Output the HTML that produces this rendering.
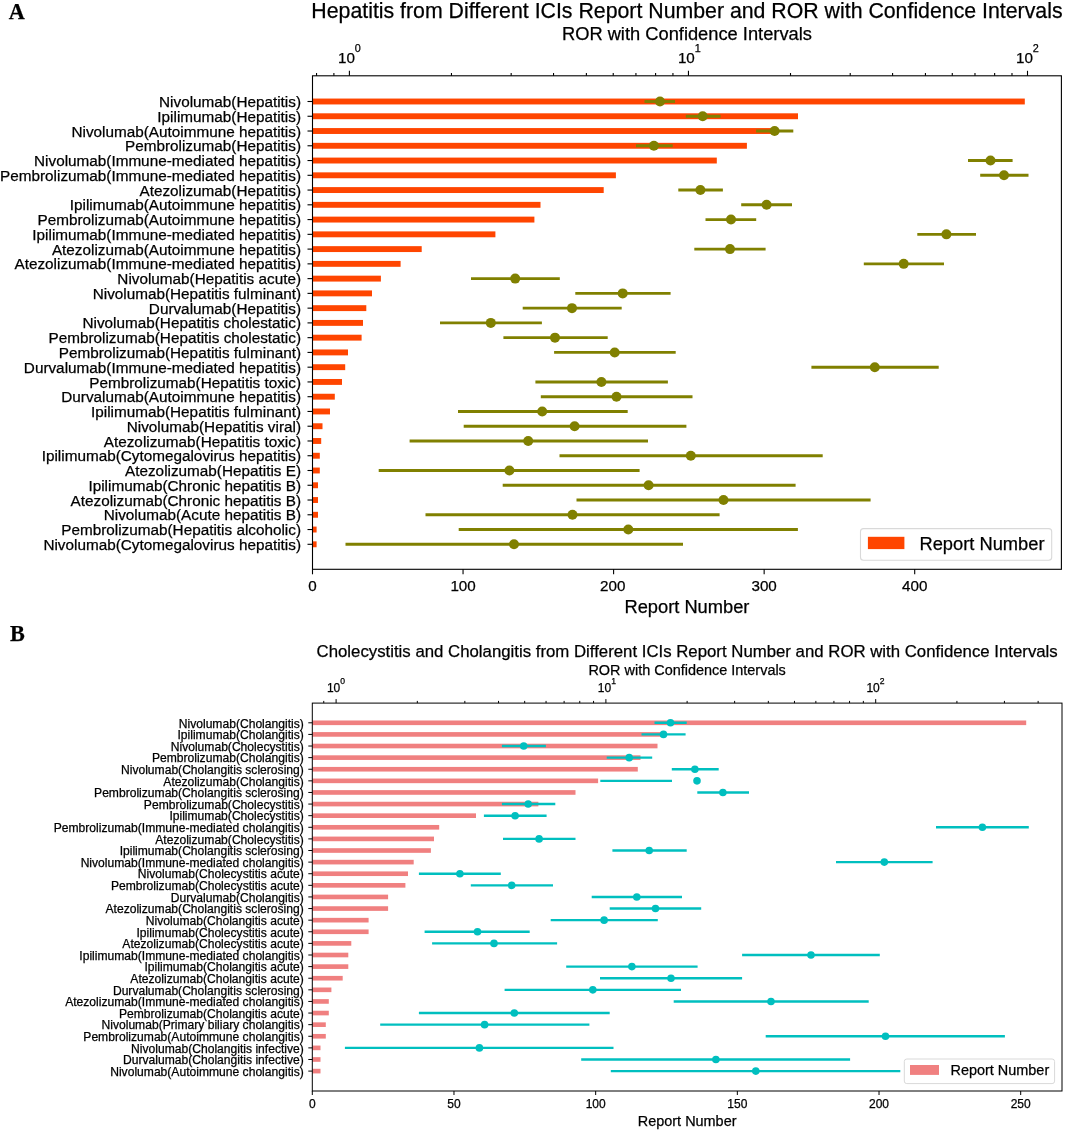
<!DOCTYPE html>
<html><head><meta charset="utf-8"><style>
html,body{margin:0;padding:0;background:#fff;}
body{width:1065px;height:1130px;overflow:hidden;}
svg{display:block;will-change:transform;font-family:"Liberation Sans",sans-serif;fill:#000;}
text{stroke:#000;stroke-width:0.25px;}
</style></head><body>
<svg width="1065" height="1130" viewBox="0 0 1065 1130">
<rect width="1065" height="1130" fill="#fff"/>
<rect x="312.5" y="98.55" width="712.30" height="5.9" fill="#ff4500"/>
<rect x="312.5" y="113.31" width="485.50" height="5.9" fill="#ff4500"/>
<rect x="312.5" y="128.07" width="463.50" height="5.9" fill="#ff4500"/>
<rect x="312.5" y="142.83" width="434.40" height="5.9" fill="#ff4500"/>
<rect x="312.5" y="157.59" width="404.30" height="5.9" fill="#ff4500"/>
<rect x="312.5" y="172.35" width="303.40" height="5.9" fill="#ff4500"/>
<rect x="312.5" y="187.11" width="291.20" height="5.9" fill="#ff4500"/>
<rect x="312.5" y="201.87" width="228.00" height="5.9" fill="#ff4500"/>
<rect x="312.5" y="216.63" width="221.90" height="5.9" fill="#ff4500"/>
<rect x="312.5" y="231.39" width="182.90" height="5.9" fill="#ff4500"/>
<rect x="312.5" y="246.15" width="109.20" height="5.9" fill="#ff4500"/>
<rect x="312.5" y="260.91" width="88.10" height="5.9" fill="#ff4500"/>
<rect x="312.5" y="275.67" width="68.40" height="5.9" fill="#ff4500"/>
<rect x="312.5" y="290.43" width="59.50" height="5.9" fill="#ff4500"/>
<rect x="312.5" y="305.19" width="53.80" height="5.9" fill="#ff4500"/>
<rect x="312.5" y="319.95" width="50.50" height="5.9" fill="#ff4500"/>
<rect x="312.5" y="334.71" width="49.10" height="5.9" fill="#ff4500"/>
<rect x="312.5" y="349.47" width="35.50" height="5.9" fill="#ff4500"/>
<rect x="312.5" y="364.23" width="32.70" height="5.9" fill="#ff4500"/>
<rect x="312.5" y="378.99" width="29.50" height="5.9" fill="#ff4500"/>
<rect x="312.5" y="393.75" width="22.30" height="5.9" fill="#ff4500"/>
<rect x="312.5" y="408.51" width="17.50" height="5.9" fill="#ff4500"/>
<rect x="312.5" y="423.27" width="10.00" height="5.9" fill="#ff4500"/>
<rect x="312.5" y="438.03" width="8.70" height="5.9" fill="#ff4500"/>
<rect x="312.5" y="452.79" width="7.30" height="5.9" fill="#ff4500"/>
<rect x="312.5" y="467.55" width="7.30" height="5.9" fill="#ff4500"/>
<rect x="312.5" y="482.31" width="5.50" height="5.9" fill="#ff4500"/>
<rect x="312.5" y="497.07" width="5.50" height="5.9" fill="#ff4500"/>
<rect x="312.5" y="511.83" width="5.50" height="5.9" fill="#ff4500"/>
<rect x="312.5" y="526.59" width="4.10" height="5.9" fill="#ff4500"/>
<rect x="312.5" y="541.35" width="4.10" height="5.9" fill="#ff4500"/>
<line x1="644.5" y1="101.50" x2="675" y2="101.50" stroke="#808000" stroke-width="2.9"/>
<circle cx="660" cy="101.50" r="5.0" fill="#808000"/>
<line x1="685.8" y1="116.26" x2="720.6" y2="116.26" stroke="#808000" stroke-width="2.9"/>
<circle cx="702.7" cy="116.26" r="5.0" fill="#808000"/>
<line x1="756.1" y1="131.02" x2="793.3" y2="131.02" stroke="#808000" stroke-width="2.9"/>
<circle cx="774.6" cy="131.02" r="5.0" fill="#808000"/>
<line x1="636" y1="145.78" x2="672.7" y2="145.78" stroke="#808000" stroke-width="2.9"/>
<circle cx="653.9" cy="145.78" r="5.0" fill="#808000"/>
<line x1="968" y1="160.54" x2="1012.6" y2="160.54" stroke="#808000" stroke-width="2.9"/>
<circle cx="990.5" cy="160.54" r="5.0" fill="#808000"/>
<line x1="980.2" y1="175.30" x2="1028.5" y2="175.30" stroke="#808000" stroke-width="2.9"/>
<circle cx="1004" cy="175.30" r="5.0" fill="#808000"/>
<line x1="678.3" y1="190.06" x2="722.9" y2="190.06" stroke="#808000" stroke-width="2.9"/>
<circle cx="700.4" cy="190.06" r="5.0" fill="#808000"/>
<line x1="741.2" y1="204.82" x2="792" y2="204.82" stroke="#808000" stroke-width="2.9"/>
<circle cx="766.6" cy="204.82" r="5.0" fill="#808000"/>
<line x1="705.5" y1="219.58" x2="756.2" y2="219.58" stroke="#808000" stroke-width="2.9"/>
<circle cx="731" cy="219.58" r="5.0" fill="#808000"/>
<line x1="917.3" y1="234.34" x2="976" y2="234.34" stroke="#808000" stroke-width="2.9"/>
<circle cx="946.4" cy="234.34" r="5.0" fill="#808000"/>
<line x1="694.3" y1="249.10" x2="765.6" y2="249.10" stroke="#808000" stroke-width="2.9"/>
<circle cx="730" cy="249.10" r="5.0" fill="#808000"/>
<line x1="863.8" y1="263.86" x2="944" y2="263.86" stroke="#808000" stroke-width="2.9"/>
<circle cx="903.7" cy="263.86" r="5.0" fill="#808000"/>
<line x1="471" y1="278.62" x2="559.8" y2="278.62" stroke="#808000" stroke-width="2.9"/>
<circle cx="515.2" cy="278.62" r="5.0" fill="#808000"/>
<line x1="575.3" y1="293.38" x2="670.6" y2="293.38" stroke="#808000" stroke-width="2.9"/>
<circle cx="622.7" cy="293.38" r="5.0" fill="#808000"/>
<line x1="522.7" y1="308.14" x2="621.7" y2="308.14" stroke="#808000" stroke-width="2.9"/>
<circle cx="572" cy="308.14" r="5.0" fill="#808000"/>
<line x1="440" y1="322.90" x2="541.9" y2="322.90" stroke="#808000" stroke-width="2.9"/>
<circle cx="490.8" cy="322.90" r="5.0" fill="#808000"/>
<line x1="503.4" y1="337.66" x2="607.7" y2="337.66" stroke="#808000" stroke-width="2.9"/>
<circle cx="555" cy="337.66" r="5.0" fill="#808000"/>
<line x1="554.1" y1="352.42" x2="675.7" y2="352.42" stroke="#808000" stroke-width="2.9"/>
<circle cx="614.7" cy="352.42" r="5.0" fill="#808000"/>
<line x1="811.4" y1="367.18" x2="938.7" y2="367.18" stroke="#808000" stroke-width="2.9"/>
<circle cx="874.8" cy="367.18" r="5.0" fill="#808000"/>
<line x1="535.4" y1="381.94" x2="667.9" y2="381.94" stroke="#808000" stroke-width="2.9"/>
<circle cx="601.4" cy="381.94" r="5.0" fill="#808000"/>
<line x1="540.8" y1="396.70" x2="692.5" y2="396.70" stroke="#808000" stroke-width="2.9"/>
<circle cx="616.5" cy="396.70" r="5.0" fill="#808000"/>
<line x1="458" y1="411.46" x2="627.7" y2="411.46" stroke="#808000" stroke-width="2.9"/>
<circle cx="542.2" cy="411.46" r="5.0" fill="#808000"/>
<line x1="463.7" y1="426.22" x2="686.4" y2="426.22" stroke="#808000" stroke-width="2.9"/>
<circle cx="574.6" cy="426.22" r="5.0" fill="#808000"/>
<line x1="409.6" y1="440.98" x2="648" y2="440.98" stroke="#808000" stroke-width="2.9"/>
<circle cx="528.2" cy="440.98" r="5.0" fill="#808000"/>
<line x1="559.5" y1="455.74" x2="822.7" y2="455.74" stroke="#808000" stroke-width="2.9"/>
<circle cx="690.8" cy="455.74" r="5.0" fill="#808000"/>
<line x1="378.7" y1="470.50" x2="639.6" y2="470.50" stroke="#808000" stroke-width="2.9"/>
<circle cx="509.4" cy="470.50" r="5.0" fill="#808000"/>
<line x1="502.7" y1="485.26" x2="795.6" y2="485.26" stroke="#808000" stroke-width="2.9"/>
<circle cx="648.6" cy="485.26" r="5.0" fill="#808000"/>
<line x1="576.5" y1="500.02" x2="870.6" y2="500.02" stroke="#808000" stroke-width="2.9"/>
<circle cx="723.5" cy="500.02" r="5.0" fill="#808000"/>
<line x1="425.5" y1="514.78" x2="719.6" y2="514.78" stroke="#808000" stroke-width="2.9"/>
<circle cx="572.5" cy="514.78" r="5.0" fill="#808000"/>
<line x1="458.7" y1="529.54" x2="797.9" y2="529.54" stroke="#808000" stroke-width="2.9"/>
<circle cx="628.3" cy="529.54" r="5.0" fill="#808000"/>
<line x1="345.5" y1="544.30" x2="683" y2="544.30" stroke="#808000" stroke-width="2.9"/>
<circle cx="514" cy="544.30" r="5.0" fill="#808000"/>
<rect x="312.5" y="75.8" width="748.9000000000001" height="493.49999999999994" fill="none" stroke="#000" stroke-width="1.1"/>
<line x1="307.5" y1="101.50" x2="312.5" y2="101.50" stroke="#000" stroke-width="1.1"/>
<text x="301.0" y="107.06" font-size="15.3" text-anchor="end">Nivolumab(Hepatitis)</text>
<line x1="307.5" y1="116.26" x2="312.5" y2="116.26" stroke="#000" stroke-width="1.1"/>
<text x="301.0" y="121.82" font-size="15.3" text-anchor="end">Ipilimumab(Hepatitis)</text>
<line x1="307.5" y1="131.02" x2="312.5" y2="131.02" stroke="#000" stroke-width="1.1"/>
<text x="301.0" y="136.58" font-size="15.3" text-anchor="end">Nivolumab(Autoimmune hepatitis)</text>
<line x1="307.5" y1="145.78" x2="312.5" y2="145.78" stroke="#000" stroke-width="1.1"/>
<text x="301.0" y="151.34" font-size="15.3" text-anchor="end">Pembrolizumab(Hepatitis)</text>
<line x1="307.5" y1="160.54" x2="312.5" y2="160.54" stroke="#000" stroke-width="1.1"/>
<text x="301.0" y="166.10" font-size="15.3" text-anchor="end">Nivolumab(Immune-mediated hepatitis)</text>
<line x1="307.5" y1="175.30" x2="312.5" y2="175.30" stroke="#000" stroke-width="1.1"/>
<text x="301.0" y="180.86" font-size="15.3" text-anchor="end">Pembrolizumab(Immune-mediated hepatitis)</text>
<line x1="307.5" y1="190.06" x2="312.5" y2="190.06" stroke="#000" stroke-width="1.1"/>
<text x="301.0" y="195.62" font-size="15.3" text-anchor="end">Atezolizumab(Hepatitis)</text>
<line x1="307.5" y1="204.82" x2="312.5" y2="204.82" stroke="#000" stroke-width="1.1"/>
<text x="301.0" y="210.38" font-size="15.3" text-anchor="end">Ipilimumab(Autoimmune hepatitis)</text>
<line x1="307.5" y1="219.58" x2="312.5" y2="219.58" stroke="#000" stroke-width="1.1"/>
<text x="301.0" y="225.14" font-size="15.3" text-anchor="end">Pembrolizumab(Autoimmune hepatitis)</text>
<line x1="307.5" y1="234.34" x2="312.5" y2="234.34" stroke="#000" stroke-width="1.1"/>
<text x="301.0" y="239.90" font-size="15.3" text-anchor="end">Ipilimumab(Immune-mediated hepatitis)</text>
<line x1="307.5" y1="249.10" x2="312.5" y2="249.10" stroke="#000" stroke-width="1.1"/>
<text x="301.0" y="254.66" font-size="15.3" text-anchor="end">Atezolizumab(Autoimmune hepatitis)</text>
<line x1="307.5" y1="263.86" x2="312.5" y2="263.86" stroke="#000" stroke-width="1.1"/>
<text x="301.0" y="269.42" font-size="15.3" text-anchor="end">Atezolizumab(Immune-mediated hepatitis)</text>
<line x1="307.5" y1="278.62" x2="312.5" y2="278.62" stroke="#000" stroke-width="1.1"/>
<text x="301.0" y="284.18" font-size="15.3" text-anchor="end">Nivolumab(Hepatitis acute)</text>
<line x1="307.5" y1="293.38" x2="312.5" y2="293.38" stroke="#000" stroke-width="1.1"/>
<text x="301.0" y="298.94" font-size="15.3" text-anchor="end">Nivolumab(Hepatitis fulminant)</text>
<line x1="307.5" y1="308.14" x2="312.5" y2="308.14" stroke="#000" stroke-width="1.1"/>
<text x="301.0" y="313.70" font-size="15.3" text-anchor="end">Durvalumab(Hepatitis)</text>
<line x1="307.5" y1="322.90" x2="312.5" y2="322.90" stroke="#000" stroke-width="1.1"/>
<text x="301.0" y="328.46" font-size="15.3" text-anchor="end">Nivolumab(Hepatitis cholestatic)</text>
<line x1="307.5" y1="337.66" x2="312.5" y2="337.66" stroke="#000" stroke-width="1.1"/>
<text x="301.0" y="343.22" font-size="15.3" text-anchor="end">Pembrolizumab(Hepatitis cholestatic)</text>
<line x1="307.5" y1="352.42" x2="312.5" y2="352.42" stroke="#000" stroke-width="1.1"/>
<text x="301.0" y="357.98" font-size="15.3" text-anchor="end">Pembrolizumab(Hepatitis fulminant)</text>
<line x1="307.5" y1="367.18" x2="312.5" y2="367.18" stroke="#000" stroke-width="1.1"/>
<text x="301.0" y="372.74" font-size="15.3" text-anchor="end">Durvalumab(Immune-mediated hepatitis)</text>
<line x1="307.5" y1="381.94" x2="312.5" y2="381.94" stroke="#000" stroke-width="1.1"/>
<text x="301.0" y="387.50" font-size="15.3" text-anchor="end">Pembrolizumab(Hepatitis toxic)</text>
<line x1="307.5" y1="396.70" x2="312.5" y2="396.70" stroke="#000" stroke-width="1.1"/>
<text x="301.0" y="402.26" font-size="15.3" text-anchor="end">Durvalumab(Autoimmune hepatitis)</text>
<line x1="307.5" y1="411.46" x2="312.5" y2="411.46" stroke="#000" stroke-width="1.1"/>
<text x="301.0" y="417.02" font-size="15.3" text-anchor="end">Ipilimumab(Hepatitis fulminant)</text>
<line x1="307.5" y1="426.22" x2="312.5" y2="426.22" stroke="#000" stroke-width="1.1"/>
<text x="301.0" y="431.78" font-size="15.3" text-anchor="end">Nivolumab(Hepatitis viral)</text>
<line x1="307.5" y1="440.98" x2="312.5" y2="440.98" stroke="#000" stroke-width="1.1"/>
<text x="301.0" y="446.54" font-size="15.3" text-anchor="end">Atezolizumab(Hepatitis toxic)</text>
<line x1="307.5" y1="455.74" x2="312.5" y2="455.74" stroke="#000" stroke-width="1.1"/>
<text x="301.0" y="461.30" font-size="15.3" text-anchor="end">Ipilimumab(Cytomegalovirus hepatitis)</text>
<line x1="307.5" y1="470.50" x2="312.5" y2="470.50" stroke="#000" stroke-width="1.1"/>
<text x="301.0" y="476.06" font-size="15.3" text-anchor="end">Atezolizumab(Hepatitis E)</text>
<line x1="307.5" y1="485.26" x2="312.5" y2="485.26" stroke="#000" stroke-width="1.1"/>
<text x="301.0" y="490.82" font-size="15.3" text-anchor="end">Ipilimumab(Chronic hepatitis B)</text>
<line x1="307.5" y1="500.02" x2="312.5" y2="500.02" stroke="#000" stroke-width="1.1"/>
<text x="301.0" y="505.58" font-size="15.3" text-anchor="end">Atezolizumab(Chronic hepatitis B)</text>
<line x1="307.5" y1="514.78" x2="312.5" y2="514.78" stroke="#000" stroke-width="1.1"/>
<text x="301.0" y="520.34" font-size="15.3" text-anchor="end">Nivolumab(Acute hepatitis B)</text>
<line x1="307.5" y1="529.54" x2="312.5" y2="529.54" stroke="#000" stroke-width="1.1"/>
<text x="301.0" y="535.10" font-size="15.3" text-anchor="end">Pembrolizumab(Hepatitis alcoholic)</text>
<line x1="307.5" y1="544.30" x2="312.5" y2="544.30" stroke="#000" stroke-width="1.1"/>
<text x="301.0" y="549.86" font-size="15.3" text-anchor="end">Nivolumab(Cytomegalovirus hepatitis)</text>
<line x1="312.50" y1="569.3" x2="312.50" y2="574.3" stroke="#000" stroke-width="1.1"/>
<text x="312.50" y="591.2" font-size="15.2" text-anchor="middle">0</text>
<line x1="463.05" y1="569.3" x2="463.05" y2="574.3" stroke="#000" stroke-width="1.1"/>
<text x="463.05" y="591.2" font-size="15.2" text-anchor="middle">100</text>
<line x1="613.60" y1="569.3" x2="613.60" y2="574.3" stroke="#000" stroke-width="1.1"/>
<text x="612.70" y="591.2" font-size="15.2" text-anchor="middle">200</text>
<line x1="764.15" y1="569.3" x2="764.15" y2="574.3" stroke="#000" stroke-width="1.1"/>
<text x="764.15" y="591.2" font-size="15.2" text-anchor="middle">300</text>
<line x1="914.70" y1="569.3" x2="914.70" y2="574.3" stroke="#000" stroke-width="1.1"/>
<text x="914.70" y="591.2" font-size="15.2" text-anchor="middle">400</text>
<line x1="316.54" y1="73.0" x2="316.54" y2="75.8" stroke="#000" stroke-width="1.1"/>
<line x1="333.89" y1="73.0" x2="333.89" y2="75.8" stroke="#000" stroke-width="1.1"/>
<line x1="349.40" y1="70.8" x2="349.40" y2="75.8" stroke="#000" stroke-width="1.1"/>
<text y="62.5" font-size="15.2" x="337.94">10<tspan font-size="10.8" dy="-10.8">0</tspan></text>
<line x1="451.46" y1="73.0" x2="451.46" y2="75.8" stroke="#000" stroke-width="1.1"/>
<line x1="511.17" y1="73.0" x2="511.17" y2="75.8" stroke="#000" stroke-width="1.1"/>
<line x1="553.53" y1="73.0" x2="553.53" y2="75.8" stroke="#000" stroke-width="1.1"/>
<line x1="586.39" y1="73.0" x2="586.39" y2="75.8" stroke="#000" stroke-width="1.1"/>
<line x1="613.23" y1="73.0" x2="613.23" y2="75.8" stroke="#000" stroke-width="1.1"/>
<line x1="635.93" y1="73.0" x2="635.93" y2="75.8" stroke="#000" stroke-width="1.1"/>
<line x1="655.59" y1="73.0" x2="655.59" y2="75.8" stroke="#000" stroke-width="1.1"/>
<line x1="672.94" y1="73.0" x2="672.94" y2="75.8" stroke="#000" stroke-width="1.1"/>
<line x1="688.45" y1="70.8" x2="688.45" y2="75.8" stroke="#000" stroke-width="1.1"/>
<text y="62.5" font-size="15.2" x="677.89">10<tspan font-size="10.8" dy="-10.8">1</tspan></text>
<line x1="790.51" y1="73.0" x2="790.51" y2="75.8" stroke="#000" stroke-width="1.1"/>
<line x1="850.22" y1="73.0" x2="850.22" y2="75.8" stroke="#000" stroke-width="1.1"/>
<line x1="892.58" y1="73.0" x2="892.58" y2="75.8" stroke="#000" stroke-width="1.1"/>
<line x1="925.44" y1="73.0" x2="925.44" y2="75.8" stroke="#000" stroke-width="1.1"/>
<line x1="952.28" y1="73.0" x2="952.28" y2="75.8" stroke="#000" stroke-width="1.1"/>
<line x1="974.98" y1="73.0" x2="974.98" y2="75.8" stroke="#000" stroke-width="1.1"/>
<line x1="994.64" y1="73.0" x2="994.64" y2="75.8" stroke="#000" stroke-width="1.1"/>
<line x1="1011.99" y1="73.0" x2="1011.99" y2="75.8" stroke="#000" stroke-width="1.1"/>
<line x1="1027.50" y1="70.8" x2="1027.50" y2="75.8" stroke="#000" stroke-width="1.1"/>
<text y="62.5" font-size="15.2" x="1015.94">10<tspan font-size="10.8" dy="-10.8">2</tspan></text>
<text x="686.95" y="17.8" font-size="21.3" text-anchor="middle">Hepatitis from Different ICIs Report Number and ROR with Confidence Intervals</text>
<text x="686.95" y="40.2" font-size="18.3" text-anchor="middle">ROR with Confidence Intervals</text>
<text x="686.95" y="613.1" font-size="18.3" text-anchor="middle">Report Number</text>
<rect x="860.5" y="528.6" width="191.20000000000005" height="31.699999999999932" rx="3" fill="#fff" fill-opacity="0.8" stroke="#d9d9d9" stroke-width="1.1"/>
<rect x="867.9" y="536.8" width="36.5" height="12.300000000000068" fill="#ff4500"/>
<text x="919.5" y="549.5" font-size="18.3">Report Number</text>
<text x="8.8" y="18.6" font-size="22.2" font-family="Liberation Serif" font-weight="bold">A</text>
<rect x="312.3" y="720.48" width="713.90" height="4.64" fill="#f08080"/>
<rect x="312.3" y="732.09" width="352.70" height="4.64" fill="#f08080"/>
<rect x="312.3" y="743.70" width="345.20" height="4.64" fill="#f08080"/>
<rect x="312.3" y="755.31" width="328.20" height="4.64" fill="#f08080"/>
<rect x="312.3" y="766.92" width="325.50" height="4.64" fill="#f08080"/>
<rect x="312.3" y="778.53" width="285.80" height="4.64" fill="#f08080"/>
<rect x="312.3" y="790.14" width="263.20" height="4.64" fill="#f08080"/>
<rect x="312.3" y="801.75" width="226.10" height="4.64" fill="#f08080"/>
<rect x="312.3" y="813.36" width="163.70" height="4.64" fill="#f08080"/>
<rect x="312.3" y="824.97" width="126.90" height="4.64" fill="#f08080"/>
<rect x="312.3" y="836.58" width="121.70" height="4.64" fill="#f08080"/>
<rect x="312.3" y="848.19" width="118.60" height="4.64" fill="#f08080"/>
<rect x="312.3" y="859.80" width="101.40" height="4.64" fill="#f08080"/>
<rect x="312.3" y="871.41" width="95.70" height="4.64" fill="#f08080"/>
<rect x="312.3" y="883.02" width="93.10" height="4.64" fill="#f08080"/>
<rect x="312.3" y="894.63" width="75.80" height="4.64" fill="#f08080"/>
<rect x="312.3" y="906.24" width="75.80" height="4.64" fill="#f08080"/>
<rect x="312.3" y="917.85" width="56.30" height="4.64" fill="#f08080"/>
<rect x="312.3" y="929.46" width="56.30" height="4.64" fill="#f08080"/>
<rect x="312.3" y="941.07" width="39.00" height="4.64" fill="#f08080"/>
<rect x="312.3" y="952.68" width="36.00" height="4.64" fill="#f08080"/>
<rect x="312.3" y="964.29" width="36.00" height="4.64" fill="#f08080"/>
<rect x="312.3" y="975.90" width="30.40" height="4.64" fill="#f08080"/>
<rect x="312.3" y="987.51" width="19.10" height="4.64" fill="#f08080"/>
<rect x="312.3" y="999.12" width="16.50" height="4.64" fill="#f08080"/>
<rect x="312.3" y="1010.73" width="16.50" height="4.64" fill="#f08080"/>
<rect x="312.3" y="1022.34" width="13.50" height="4.64" fill="#f08080"/>
<rect x="312.3" y="1033.95" width="13.50" height="4.64" fill="#f08080"/>
<rect x="312.3" y="1045.56" width="8.20" height="4.64" fill="#f08080"/>
<rect x="312.3" y="1057.17" width="8.20" height="4.64" fill="#f08080"/>
<rect x="312.3" y="1068.78" width="8.20" height="4.64" fill="#f08080"/>
<line x1="654.5" y1="722.80" x2="686.7" y2="722.80" stroke="#00bfbf" stroke-width="2.4"/>
<circle cx="670.5" cy="722.80" r="3.8" fill="#00bfbf"/>
<line x1="641.5" y1="734.41" x2="685.6" y2="734.41" stroke="#00bfbf" stroke-width="2.4"/>
<circle cx="663.5" cy="734.41" r="3.8" fill="#00bfbf"/>
<line x1="501.9" y1="746.02" x2="545.9" y2="746.02" stroke="#00bfbf" stroke-width="2.4"/>
<circle cx="523.7" cy="746.02" r="3.8" fill="#00bfbf"/>
<line x1="606.7" y1="757.63" x2="652.2" y2="757.63" stroke="#00bfbf" stroke-width="2.4"/>
<circle cx="629.2" cy="757.63" r="3.8" fill="#00bfbf"/>
<line x1="671.8" y1="769.24" x2="718.7" y2="769.24" stroke="#00bfbf" stroke-width="2.4"/>
<circle cx="694.9" cy="769.24" r="3.8" fill="#00bfbf"/>
<line x1="600.3" y1="780.85" x2="672.0" y2="780.85" stroke="#00bfbf" stroke-width="2.4"/>
<circle cx="697.0" cy="780.85" r="3.8" fill="#00bfbf"/>
<line x1="697.3" y1="792.46" x2="749" y2="792.46" stroke="#00bfbf" stroke-width="2.4"/>
<circle cx="722.9" cy="792.46" r="3.8" fill="#00bfbf"/>
<line x1="501.9" y1="804.07" x2="555.3" y2="804.07" stroke="#00bfbf" stroke-width="2.4"/>
<circle cx="528.2" cy="804.07" r="3.8" fill="#00bfbf"/>
<line x1="483.9" y1="815.68" x2="546.6" y2="815.68" stroke="#00bfbf" stroke-width="2.4"/>
<circle cx="515.1" cy="815.68" r="3.8" fill="#00bfbf"/>
<line x1="936" y1="827.29" x2="1028.8" y2="827.29" stroke="#00bfbf" stroke-width="2.4"/>
<circle cx="982.4" cy="827.29" r="3.8" fill="#00bfbf"/>
<line x1="503" y1="838.90" x2="575.5" y2="838.90" stroke="#00bfbf" stroke-width="2.4"/>
<circle cx="539.1" cy="838.90" r="3.8" fill="#00bfbf"/>
<line x1="612.4" y1="850.51" x2="686.7" y2="850.51" stroke="#00bfbf" stroke-width="2.4"/>
<circle cx="649.2" cy="850.51" r="3.8" fill="#00bfbf"/>
<line x1="836" y1="862.12" x2="932.6" y2="862.12" stroke="#00bfbf" stroke-width="2.4"/>
<circle cx="884.3" cy="862.12" r="3.8" fill="#00bfbf"/>
<line x1="418.9" y1="873.73" x2="500.8" y2="873.73" stroke="#00bfbf" stroke-width="2.4"/>
<circle cx="459.9" cy="873.73" r="3.8" fill="#00bfbf"/>
<line x1="470.8" y1="885.34" x2="553" y2="885.34" stroke="#00bfbf" stroke-width="2.4"/>
<circle cx="511.7" cy="885.34" r="3.8" fill="#00bfbf"/>
<line x1="591.7" y1="896.95" x2="682" y2="896.95" stroke="#00bfbf" stroke-width="2.4"/>
<circle cx="636.8" cy="896.95" r="3.8" fill="#00bfbf"/>
<line x1="609.7" y1="908.56" x2="701.2" y2="908.56" stroke="#00bfbf" stroke-width="2.4"/>
<circle cx="655.5" cy="908.56" r="3.8" fill="#00bfbf"/>
<line x1="550.7" y1="920.17" x2="657.8" y2="920.17" stroke="#00bfbf" stroke-width="2.4"/>
<circle cx="604.1" cy="920.17" r="3.8" fill="#00bfbf"/>
<line x1="424.6" y1="931.78" x2="529.7" y2="931.78" stroke="#00bfbf" stroke-width="2.4"/>
<circle cx="477.5" cy="931.78" r="3.8" fill="#00bfbf"/>
<line x1="432.1" y1="943.39" x2="557.1" y2="943.39" stroke="#00bfbf" stroke-width="2.4"/>
<circle cx="494" cy="943.39" r="3.8" fill="#00bfbf"/>
<line x1="742.1" y1="955.00" x2="879.8" y2="955.00" stroke="#00bfbf" stroke-width="2.4"/>
<circle cx="811" cy="955.00" r="3.8" fill="#00bfbf"/>
<line x1="566.2" y1="966.61" x2="697.6" y2="966.61" stroke="#00bfbf" stroke-width="2.4"/>
<circle cx="631.9" cy="966.61" r="3.8" fill="#00bfbf"/>
<line x1="600" y1="978.22" x2="742.1" y2="978.22" stroke="#00bfbf" stroke-width="2.4"/>
<circle cx="671" cy="978.22" r="3.8" fill="#00bfbf"/>
<line x1="504.6" y1="989.83" x2="681" y2="989.83" stroke="#00bfbf" stroke-width="2.4"/>
<circle cx="592.8" cy="989.83" r="3.8" fill="#00bfbf"/>
<line x1="673.7" y1="1001.44" x2="868.7" y2="1001.44" stroke="#00bfbf" stroke-width="2.4"/>
<circle cx="771" cy="1001.44" r="3.8" fill="#00bfbf"/>
<line x1="418.9" y1="1013.05" x2="609.7" y2="1013.05" stroke="#00bfbf" stroke-width="2.4"/>
<circle cx="514.3" cy="1013.05" r="3.8" fill="#00bfbf"/>
<line x1="380.2" y1="1024.66" x2="589.4" y2="1024.66" stroke="#00bfbf" stroke-width="2.4"/>
<circle cx="484.6" cy="1024.66" r="3.8" fill="#00bfbf"/>
<line x1="765.7" y1="1036.27" x2="1004.9" y2="1036.27" stroke="#00bfbf" stroke-width="2.4"/>
<circle cx="885.5" cy="1036.27" r="3.8" fill="#00bfbf"/>
<line x1="344.9" y1="1047.88" x2="613.5" y2="1047.88" stroke="#00bfbf" stroke-width="2.4"/>
<circle cx="479.4" cy="1047.88" r="3.8" fill="#00bfbf"/>
<line x1="581.2" y1="1059.49" x2="850.1" y2="1059.49" stroke="#00bfbf" stroke-width="2.4"/>
<circle cx="715.9" cy="1059.49" r="3.8" fill="#00bfbf"/>
<line x1="610.8" y1="1071.10" x2="900.3" y2="1071.10" stroke="#00bfbf" stroke-width="2.4"/>
<circle cx="755.8" cy="1071.10" r="3.8" fill="#00bfbf"/>
<rect x="312.3" y="703.1" width="749.7" height="387.9" fill="none" stroke="#000" stroke-width="1.0"/>
<line x1="308.3" y1="722.80" x2="312.3" y2="722.80" stroke="#000" stroke-width="1.0"/>
<text x="303.8" y="727.56" font-size="12.1" text-anchor="end">Nivolumab(Cholangitis)</text>
<line x1="308.3" y1="734.41" x2="312.3" y2="734.41" stroke="#000" stroke-width="1.0"/>
<text x="303.8" y="739.17" font-size="12.1" text-anchor="end">Ipilimumab(Cholangitis)</text>
<line x1="308.3" y1="746.02" x2="312.3" y2="746.02" stroke="#000" stroke-width="1.0"/>
<text x="303.8" y="750.78" font-size="12.1" text-anchor="end">Nivolumab(Cholecystitis)</text>
<line x1="308.3" y1="757.63" x2="312.3" y2="757.63" stroke="#000" stroke-width="1.0"/>
<text x="303.8" y="762.39" font-size="12.1" text-anchor="end">Pembrolizumab(Cholangitis)</text>
<line x1="308.3" y1="769.24" x2="312.3" y2="769.24" stroke="#000" stroke-width="1.0"/>
<text x="303.8" y="774.00" font-size="12.1" text-anchor="end">Nivolumab(Cholangitis sclerosing)</text>
<line x1="308.3" y1="780.85" x2="312.3" y2="780.85" stroke="#000" stroke-width="1.0"/>
<text x="303.8" y="785.61" font-size="12.1" text-anchor="end">Atezolizumab(Cholangitis)</text>
<line x1="308.3" y1="792.46" x2="312.3" y2="792.46" stroke="#000" stroke-width="1.0"/>
<text x="303.8" y="797.22" font-size="12.1" text-anchor="end">Pembrolizumab(Cholangitis sclerosing)</text>
<line x1="308.3" y1="804.07" x2="312.3" y2="804.07" stroke="#000" stroke-width="1.0"/>
<text x="303.8" y="808.83" font-size="12.1" text-anchor="end">Pembrolizumab(Cholecystitis)</text>
<line x1="308.3" y1="815.68" x2="312.3" y2="815.68" stroke="#000" stroke-width="1.0"/>
<text x="303.8" y="820.44" font-size="12.1" text-anchor="end">Ipilimumab(Cholecystitis)</text>
<line x1="308.3" y1="827.29" x2="312.3" y2="827.29" stroke="#000" stroke-width="1.0"/>
<text x="303.8" y="832.05" font-size="12.1" text-anchor="end">Pembrolizumab(Immune-mediated cholangitis)</text>
<line x1="308.3" y1="838.90" x2="312.3" y2="838.90" stroke="#000" stroke-width="1.0"/>
<text x="303.8" y="843.66" font-size="12.1" text-anchor="end">Atezolizumab(Cholecystitis)</text>
<line x1="308.3" y1="850.51" x2="312.3" y2="850.51" stroke="#000" stroke-width="1.0"/>
<text x="303.8" y="855.27" font-size="12.1" text-anchor="end">Ipilimumab(Cholangitis sclerosing)</text>
<line x1="308.3" y1="862.12" x2="312.3" y2="862.12" stroke="#000" stroke-width="1.0"/>
<text x="303.8" y="866.88" font-size="12.1" text-anchor="end">Nivolumab(Immune-mediated cholangitis)</text>
<line x1="308.3" y1="873.73" x2="312.3" y2="873.73" stroke="#000" stroke-width="1.0"/>
<text x="303.8" y="878.49" font-size="12.1" text-anchor="end">Nivolumab(Cholecystitis acute)</text>
<line x1="308.3" y1="885.34" x2="312.3" y2="885.34" stroke="#000" stroke-width="1.0"/>
<text x="303.8" y="890.10" font-size="12.1" text-anchor="end">Pembrolizumab(Cholecystitis acute)</text>
<line x1="308.3" y1="896.95" x2="312.3" y2="896.95" stroke="#000" stroke-width="1.0"/>
<text x="303.8" y="901.71" font-size="12.1" text-anchor="end">Durvalumab(Cholangitis)</text>
<line x1="308.3" y1="908.56" x2="312.3" y2="908.56" stroke="#000" stroke-width="1.0"/>
<text x="303.8" y="913.32" font-size="12.1" text-anchor="end">Atezolizumab(Cholangitis sclerosing)</text>
<line x1="308.3" y1="920.17" x2="312.3" y2="920.17" stroke="#000" stroke-width="1.0"/>
<text x="303.8" y="924.93" font-size="12.1" text-anchor="end">Nivolumab(Cholangitis acute)</text>
<line x1="308.3" y1="931.78" x2="312.3" y2="931.78" stroke="#000" stroke-width="1.0"/>
<text x="303.8" y="936.54" font-size="12.1" text-anchor="end">Ipilimumab(Cholecystitis acute)</text>
<line x1="308.3" y1="943.39" x2="312.3" y2="943.39" stroke="#000" stroke-width="1.0"/>
<text x="303.8" y="948.15" font-size="12.1" text-anchor="end">Atezolizumab(Cholecystitis acute)</text>
<line x1="308.3" y1="955.00" x2="312.3" y2="955.00" stroke="#000" stroke-width="1.0"/>
<text x="303.8" y="959.76" font-size="12.1" text-anchor="end">Ipilimumab(Immune-mediated cholangitis)</text>
<line x1="308.3" y1="966.61" x2="312.3" y2="966.61" stroke="#000" stroke-width="1.0"/>
<text x="303.8" y="971.37" font-size="12.1" text-anchor="end">Ipilimumab(Cholangitis acute)</text>
<line x1="308.3" y1="978.22" x2="312.3" y2="978.22" stroke="#000" stroke-width="1.0"/>
<text x="303.8" y="982.98" font-size="12.1" text-anchor="end">Atezolizumab(Cholangitis acute)</text>
<line x1="308.3" y1="989.83" x2="312.3" y2="989.83" stroke="#000" stroke-width="1.0"/>
<text x="303.8" y="994.59" font-size="12.1" text-anchor="end">Durvalumab(Cholangitis sclerosing)</text>
<line x1="308.3" y1="1001.44" x2="312.3" y2="1001.44" stroke="#000" stroke-width="1.0"/>
<text x="303.8" y="1006.20" font-size="12.1" text-anchor="end">Atezolizumab(Immune-mediated cholangitis)</text>
<line x1="308.3" y1="1013.05" x2="312.3" y2="1013.05" stroke="#000" stroke-width="1.0"/>
<text x="303.8" y="1017.81" font-size="12.1" text-anchor="end">Pembrolizumab(Cholangitis acute)</text>
<line x1="308.3" y1="1024.66" x2="312.3" y2="1024.66" stroke="#000" stroke-width="1.0"/>
<text x="303.8" y="1029.42" font-size="12.1" text-anchor="end">Nivolumab(Primary biliary cholangitis)</text>
<line x1="308.3" y1="1036.27" x2="312.3" y2="1036.27" stroke="#000" stroke-width="1.0"/>
<text x="303.8" y="1041.03" font-size="12.1" text-anchor="end">Pembrolizumab(Autoimmune cholangitis)</text>
<line x1="308.3" y1="1047.88" x2="312.3" y2="1047.88" stroke="#000" stroke-width="1.0"/>
<text x="303.8" y="1052.64" font-size="12.1" text-anchor="end">Nivolumab(Cholangitis infective)</text>
<line x1="308.3" y1="1059.49" x2="312.3" y2="1059.49" stroke="#000" stroke-width="1.0"/>
<text x="303.8" y="1064.25" font-size="12.1" text-anchor="end">Durvalumab(Cholangitis infective)</text>
<line x1="308.3" y1="1071.10" x2="312.3" y2="1071.10" stroke="#000" stroke-width="1.0"/>
<text x="303.8" y="1075.86" font-size="12.1" text-anchor="end">Nivolumab(Autoimmune cholangitis)</text>
<line x1="312.30" y1="1091" x2="312.30" y2="1095.0" stroke="#000" stroke-width="1.0"/>
<text x="312.30" y="1107.9" font-size="12.0" text-anchor="middle">0</text>
<line x1="453.98" y1="1091" x2="453.98" y2="1095.0" stroke="#000" stroke-width="1.0"/>
<text x="453.98" y="1107.9" font-size="12.0" text-anchor="middle">50</text>
<line x1="595.66" y1="1091" x2="595.66" y2="1095.0" stroke="#000" stroke-width="1.0"/>
<text x="595.66" y="1107.9" font-size="12.0" text-anchor="middle">100</text>
<line x1="737.34" y1="1091" x2="737.34" y2="1095.0" stroke="#000" stroke-width="1.0"/>
<text x="737.34" y="1107.9" font-size="12.0" text-anchor="middle">150</text>
<line x1="879.02" y1="1091" x2="879.02" y2="1095.0" stroke="#000" stroke-width="1.0"/>
<text x="879.02" y="1107.9" font-size="12.0" text-anchor="middle">200</text>
<line x1="1020.70" y1="1091" x2="1020.70" y2="1095.0" stroke="#000" stroke-width="1.0"/>
<text x="1020.70" y="1107.9" font-size="12.0" text-anchor="middle">250</text>
<line x1="323.75" y1="700.9" x2="323.75" y2="703.1" stroke="#000" stroke-width="1.0"/>
<line x1="336.10" y1="699.1" x2="336.10" y2="703.1" stroke="#000" stroke-width="1.0"/>
<text y="692.0" font-size="12.0" x="326.89">10<tspan font-size="8.6" dy="-8.3">0</tspan></text>
<line x1="417.32" y1="700.9" x2="417.32" y2="703.1" stroke="#000" stroke-width="1.0"/>
<line x1="464.83" y1="700.9" x2="464.83" y2="703.1" stroke="#000" stroke-width="1.0"/>
<line x1="498.54" y1="700.9" x2="498.54" y2="703.1" stroke="#000" stroke-width="1.0"/>
<line x1="524.68" y1="700.9" x2="524.68" y2="703.1" stroke="#000" stroke-width="1.0"/>
<line x1="546.05" y1="700.9" x2="546.05" y2="703.1" stroke="#000" stroke-width="1.0"/>
<line x1="564.11" y1="700.9" x2="564.11" y2="703.1" stroke="#000" stroke-width="1.0"/>
<line x1="579.75" y1="700.9" x2="579.75" y2="703.1" stroke="#000" stroke-width="1.0"/>
<line x1="593.55" y1="700.9" x2="593.55" y2="703.1" stroke="#000" stroke-width="1.0"/>
<line x1="605.90" y1="699.1" x2="605.90" y2="703.1" stroke="#000" stroke-width="1.0"/>
<text y="692.0" font-size="12.0" x="597.79">10<tspan font-size="8.6" dy="-8.3">1</tspan></text>
<line x1="687.12" y1="700.9" x2="687.12" y2="703.1" stroke="#000" stroke-width="1.0"/>
<line x1="734.63" y1="700.9" x2="734.63" y2="703.1" stroke="#000" stroke-width="1.0"/>
<line x1="768.34" y1="700.9" x2="768.34" y2="703.1" stroke="#000" stroke-width="1.0"/>
<line x1="794.48" y1="700.9" x2="794.48" y2="703.1" stroke="#000" stroke-width="1.0"/>
<line x1="815.85" y1="700.9" x2="815.85" y2="703.1" stroke="#000" stroke-width="1.0"/>
<line x1="833.91" y1="700.9" x2="833.91" y2="703.1" stroke="#000" stroke-width="1.0"/>
<line x1="849.55" y1="700.9" x2="849.55" y2="703.1" stroke="#000" stroke-width="1.0"/>
<line x1="863.35" y1="700.9" x2="863.35" y2="703.1" stroke="#000" stroke-width="1.0"/>
<line x1="875.70" y1="699.1" x2="875.70" y2="703.1" stroke="#000" stroke-width="1.0"/>
<text y="692.0" font-size="12.0" x="866.39">10<tspan font-size="8.6" dy="-8.3">2</tspan></text>
<line x1="956.92" y1="700.9" x2="956.92" y2="703.1" stroke="#000" stroke-width="1.0"/>
<line x1="1004.43" y1="700.9" x2="1004.43" y2="703.1" stroke="#000" stroke-width="1.0"/>
<line x1="1038.14" y1="700.9" x2="1038.14" y2="703.1" stroke="#000" stroke-width="1.0"/>
<text x="687.15" y="657.0" font-size="16.8" text-anchor="middle">Cholecystitis and Cholangitis from Different ICIs Report Number and ROR with Confidence Intervals</text>
<text x="687.15" y="674.6" font-size="14.45" text-anchor="middle">ROR with Confidence Intervals</text>
<text x="687.15" y="1125.6" font-size="14.45" text-anchor="middle">Report Number</text>
<rect x="904.3" y="1059" width="150.29999999999995" height="24.59999999999991" rx="2.5" fill="#fff" fill-opacity="0.8" stroke="#d9d9d9" stroke-width="1.0"/>
<rect x="910" y="1065" width="29" height="9.900000000000091" fill="#f08080"/>
<text x="950.5" y="1075.1" font-size="14.45">Report Number</text>
<text x="10" y="640.5" font-size="22.2" font-family="Liberation Serif" font-weight="bold">B</text>
</svg>
</body></html>
